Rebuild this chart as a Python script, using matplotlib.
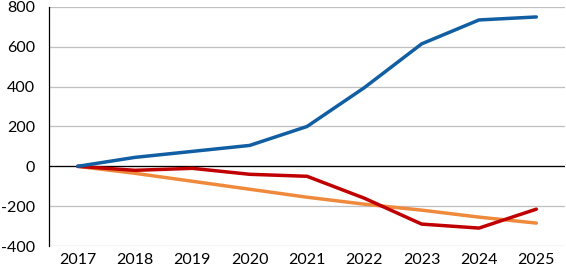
import numpy as np
import matplotlib.pyplot as plt

years = ['2017', '2018', '2019', '2020', '2021', '2022', '2023', '2024', '2025']
blue = [0, 45, 75, 105, 200, 395, 615, 735, 750]
orange = [0, -35, -75, -115, -155, -190, -220, -255, -285]
red = [0, -20, -10, -40, -50, -160, -290, -310, -215]

plt.rcParams['font.family'] = ['Lato', 'DejaVu Sans']
plt.rcParams['axes.unicode_minus'] = False

fig = plt.figure(figsize=(5.66, 2.69), dpi=100)
ax = fig.add_axes([49/566, 23/269, 516/566, 239/269])
x = np.arange(len(years))

ax.plot(x, orange, color='#ef8a3c', lw=2.5, solid_capstyle='round', zorder=3)
ax.plot(x, red, color='#c00000', lw=2.5, solid_capstyle='round', zorder=4)
ax.plot(x, blue, color='#115ea3', lw=2.5, solid_capstyle='round', zorder=5)

ax.set_xlim(-0.5, len(years) - 0.5)
ax.set_ylim(-400, 800)
ax.set_yticks(range(-400, 801, 200))
ax.set_xticks(x)
ax.set_xticklabels(years)
ax.yaxis.grid(True, color='#bfbfbf', lw=0.9)
ax.set_axisbelow(True)
ax.axhline(0, color='black', lw=0.9, zorder=2)
for s in ['top', 'right', 'bottom']:
    ax.spines[s].set_visible(False)
ax.spines['left'].set_color('black')
ax.spines['left'].set_linewidth(0.9)
ax.tick_params(axis='both', length=0, labelsize=11.5, colors='black')
ax.tick_params(axis='y', pad=10)
ax.tick_params(axis='x', pad=5)

fig.savefig('out.png', dpi=100)
